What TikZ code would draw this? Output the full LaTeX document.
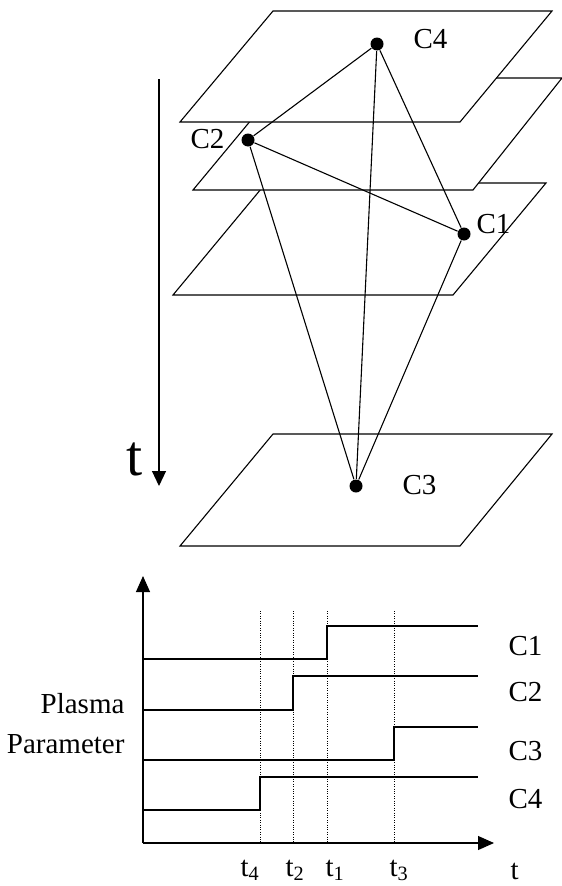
\documentclass[tikz,border=0pt]{standalone}
\usepackage{fontspec}
\setmainfont{Liberation Serif}
\usetikzlibrary{arrows.meta, positioning}

\begin{document}
\begin{tikzpicture}[
        x=1pt, y=-1pt, line width=1.1pt,
        plane/.style={draw, fill=white},
        dot/.style={circle, fill=black, inner sep=0pt, minimum size=13pt},
        link/.style={draw, line width=1.1pt},
        lbl/.style={anchor=base west, inner sep=0pt, font=\fontsize{29}{31}\selectfont},
        axis/.style={-{Triangle[length=16pt,width=14pt]}},
        marker/.style={line width=0.7pt, dash pattern=on 1pt off 1.4pt},
        level/.style={line width=1.1pt}
    ]
        \useasboundingbox (0,0) rectangle (562,886);

        % Planes (back to front)
        \draw[plane] (266,183) -- (546,183) -- (453,295) -- (173,295) -- cycle;
        \draw[plane] (286,78) -- (562,78) -- (473,190) -- (193,190) -- cycle;
        \draw[plane] (273,11) -- (552,11) -- (460,122) -- (180,122) -- cycle;
        \draw[plane] (273,434) -- (552,434) -- (460,546) -- (180,546) -- cycle;

        % Spacecraft positions
        \node[dot] (c4) at (377,44) {};
        \node[dot] (c2) at (248,140) {};
        \node[dot] (c1) at (464,234) {};
        \node[dot] (c3) at (356,486) {};

        \node[lbl] (c4lbl) at (413,48) {C4};
        \node[lbl] (c2lbl) at (190,148) {C2};
        \node[lbl] (c1lbl) at (476,233) {C1};
        \node[lbl] (c3lbl) at (402,494) {C3};

        % Tetrahedron edges
        \draw[link] (c4) -- (c2);
        \draw[link] (c4) -- (c1);
        \draw[link] (c4) -- (c3);
        \draw[link] (c2) -- (c1);
        \draw[link] (c2) -- (c3);
        \draw[link] (c1) -- (c3);

        % Time direction
        \coordinate (tstart) at (159,79);
        \coordinate (tend) at (159,486);
        \draw[-{Triangle[length=15pt,width=14pt]}] (tstart) -- (tend);
        \node[anchor=base, inner sep=0pt, font=\fontsize{58}{60}\selectfont] (tlbl) at (135,475) {t};

        % Plot axes
        \coordinate (origin) at (143,843);
        \coordinate (ytop) at (143,576);
        \coordinate (xend) at (494,843);
        \draw[axis] (origin) -- (ytop);
        \draw[axis] (origin) -- (xend);

        % Crossing times
        \foreach \tx in {260,293,327,394}
            \draw[marker] (\tx,611) -- (\tx,843);

        % Parameter steps
        \foreach \lo/\hi/\tx in {659/626/327, 710/676/293, 760/727/394, 810/777/260}
            \draw[level] (143,\lo) -- (\tx,\lo) -- (\tx,\hi) -- (478,\hi);

        \foreach \name/\base in {C1/655, C2/701, C3/760, C4/808}
            \node[lbl] at (508,\base) {\name};

        % Axis labels
        \node[lbl, anchor=base east] (plasma) at (125,713) {Plasma};
        \node[lbl, anchor=base east] (param) at (125,753) {Parameter};
        \node[lbl] (t4) at (240,876) {t\textsubscript{4}};
        \node[lbl] (t2) at (285,876) {t\textsubscript{2}};
        \node[lbl] (t1) at (325,876) {t\textsubscript{1}};
        \node[lbl] (t3) at (389,876) {t\textsubscript{3}};
        \node[lbl] (tax) at (510,879) {t};

    \end{tikzpicture}
\end{document}
